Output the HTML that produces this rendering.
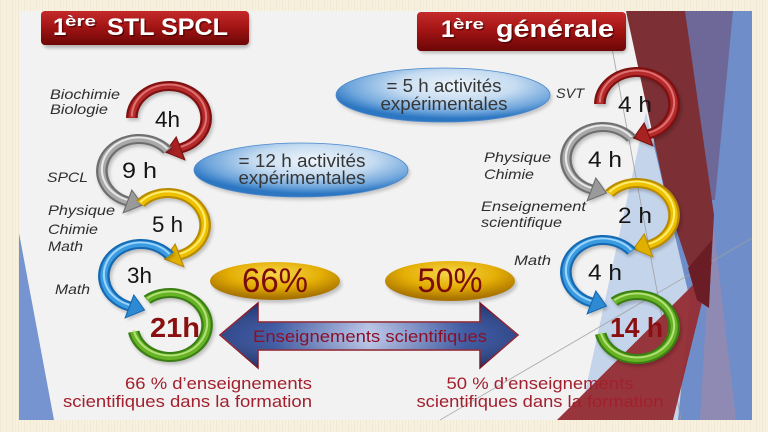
<!DOCTYPE html>
<html><head><meta charset="utf-8">
<style>html,body{margin:0;padding:0;background:#f7f0dd;overflow:hidden}svg{display:block}</style>
</head>
<body>
<svg width="768" height="432" viewBox="0 0 768 432" xmlns="http://www.w3.org/2000/svg" font-family="'Liberation Sans', Arial, sans-serif">
<defs>
  <pattern id="tex" width="6" height="6" patternUnits="userSpaceOnUse">
    <rect width="6" height="6" fill="#f8f1df"/>
    <rect x="0" width="1" height="6" fill="#f1e8d1"/>
    <rect x="3" width="1" height="6" fill="#f4ecd8"/>
  </pattern>
  <linearGradient id="title" x1="0" y1="0" x2="0" y2="1">
    <stop offset="0" stop-color="#c42a2a"/>
    <stop offset="0.45" stop-color="#a51515"/>
    <stop offset="1" stop-color="#6c0606"/>
  </linearGradient>
  <radialGradient id="blueEl" cx="0.56" cy="0.32" r="0.62">
    <stop offset="0" stop-color="#eef5fb"/>
    <stop offset="0.45" stop-color="#c6dcf1"/>
    <stop offset="0.8" stop-color="#6fa6dc"/>
    <stop offset="1" stop-color="#2c76c2"/>
  </radialGradient>
  <radialGradient id="goldEl" cx="0.5" cy="0.3" r="0.65">
    <stop offset="0" stop-color="#f7d64c"/>
    <stop offset="0.55" stop-color="#e4ae05"/>
    <stop offset="1" stop-color="#a87200"/>
  </radialGradient>
  <linearGradient id="arrowG" x1="0" y1="0" x2="1" y2="0">
    <stop offset="0" stop-color="#1b347d"/>
    <stop offset="0.18" stop-color="#2d4c9f"/>
    <stop offset="0.5" stop-color="#b9c6ec"/>
    <stop offset="0.82" stop-color="#2d4c9f"/>
    <stop offset="1" stop-color="#1b347d"/>
  </linearGradient>
  <linearGradient id="arrowV" x1="0" y1="0" x2="0" y2="1">
    <stop offset="0" stop-color="#000" stop-opacity="0.25"/>
    <stop offset="0.5" stop-color="#fff" stop-opacity="0.1"/>
    <stop offset="1" stop-color="#000" stop-opacity="0.3"/>
  </linearGradient>
  <filter id="blur" x="-20%" y="-20%" width="140%" height="140%"><feGaussianBlur stdDeviation="1.5"/></filter>
</defs>

<!-- outer background -->
<rect width="768" height="432" fill="url(#tex)"/>
<!-- slide -->
<rect x="19" y="11" width="733" height="409" fill="#f2f2f2"/>

<!-- left blue triangle -->
<polygon points="19,233 19,420 54,420" fill="#7694cf"/>

<!-- right decorations -->
<polygon points="660,11 752,11 752,420 640,420" fill="#6f8dc8"/>
<polygon points="685,11 733,11 715,200 707,200" fill="#6d6897"/>
<polygon points="711,205 736,420 700,420 707,300" fill="#9a8aac" opacity="0.75"/>
<polygon points="646,112 690,300 678,420 579,420" fill="#c4d4ea"/>
<line x1="612" y1="48" x2="681" y2="420" stroke="#9a9a9a" stroke-width="0.9" opacity="0.8"/>
<line x1="440" y1="420" x2="752" y2="238" stroke="#a0a0a0" stroke-width="0.9" opacity="0.8"/>
<polygon points="626,11 685,11 714,215 709,305 688,265 668,205" fill="#7c3036"/>
<polygon points="557,420 703,275 712,262 673,420" fill="#962f36" opacity="0.97"/>
<polygon points="688,268 712,240 709,308 697,300" fill="#6a1d24"/>

<!-- titles -->
<rect x="43" y="14" width="207" height="34" rx="5" fill="#000" opacity="0.25" filter="url(#blur)"/>
<rect x="41" y="11" width="208" height="34" rx="4" fill="url(#title)"/>
<g fill="#fff" font-weight="bold">
  <g fill="#3a0000" opacity="0.6" transform="translate(1.5 1.5)">
    <text x="53" y="35" font-size="24">1</text>
    <text x="65" y="26" font-size="15" textLength="31" lengthAdjust="spacingAndGlyphs">ère</text>
    <text x="107" y="35" font-size="24" textLength="121" lengthAdjust="spacingAndGlyphs">STL SPCL</text>
  </g>
  <text x="53" y="35" font-size="24">1</text>
  <text x="65" y="26" font-size="15" textLength="31" lengthAdjust="spacingAndGlyphs">ère</text>
  <text x="107" y="35" font-size="24" textLength="121" lengthAdjust="spacingAndGlyphs">STL SPCL</text>
</g>

<rect x="419" y="15" width="208" height="38" rx="5" fill="#000" opacity="0.25" filter="url(#blur)"/>
<rect x="417" y="12" width="209" height="39" rx="4" fill="url(#title)"/>
<g fill="#fff" font-weight="bold">
  <g fill="#3a0000" opacity="0.6" transform="translate(1.5 1.5)">
    <text x="441" y="37" font-size="24">1</text>
    <text x="453" y="29" font-size="15" textLength="31" lengthAdjust="spacingAndGlyphs">ère</text>
    <text x="496" y="37" font-size="24" textLength="118" lengthAdjust="spacingAndGlyphs">générale</text>
  </g>
  <text x="441" y="37" font-size="24">1</text>
  <text x="453" y="29" font-size="15" textLength="31" lengthAdjust="spacingAndGlyphs">ère</text>
  <text x="496" y="37" font-size="24" textLength="118" lengthAdjust="spacingAndGlyphs">générale</text>
</g>

<!-- blue ellipses -->
<ellipse cx="303" cy="173" rx="107" ry="27" fill="#000" opacity="0.18" filter="url(#blur)"/>
<ellipse cx="301" cy="170" rx="107" ry="27" fill="url(#blueEl)" stroke="#4a88cc" stroke-width="0.8"/>
<ellipse cx="445" cy="98" rx="107" ry="27" fill="#000" opacity="0.18" filter="url(#blur)"/>
<ellipse cx="443" cy="95" rx="107" ry="27" fill="url(#blueEl)" stroke="#4a88cc" stroke-width="0.8"/>
<g fill="#363636" font-size="18">
  <text x="302" y="167" text-anchor="middle" textLength="127" lengthAdjust="spacingAndGlyphs">= 12 h activités</text>
  <text x="302" y="184" text-anchor="middle" textLength="127" lengthAdjust="spacingAndGlyphs">expérimentales</text>
  <text x="444" y="92" text-anchor="middle" textLength="115" lengthAdjust="spacingAndGlyphs">= 5 h activités</text>
  <text x="444" y="110" text-anchor="middle" textLength="127" lengthAdjust="spacingAndGlyphs">expérimentales</text>
</g>

<!-- gold ellipses -->
<ellipse cx="277" cy="284" rx="65" ry="19" fill="#000" opacity="0.2" filter="url(#blur)"/>
<ellipse cx="275" cy="281" rx="65" ry="19" fill="url(#goldEl)"/>
<ellipse cx="452" cy="284" rx="65" ry="20" fill="#000" opacity="0.2" filter="url(#blur)"/>
<ellipse cx="450" cy="281" rx="65" ry="20" fill="url(#goldEl)"/>
<g fill="#7a0c0c" font-size="34">
  <text x="275" y="292" text-anchor="middle" textLength="66" lengthAdjust="spacingAndGlyphs">66%</text>
  <text x="450" y="292" text-anchor="middle" textLength="65" lengthAdjust="spacingAndGlyphs">50%</text>
</g>

<!-- double arrow -->
<polygon points="220,335 258,303 258,322 480,322 480,303 518,335 480,368 480,350 258,350 258,368" fill="url(#arrowG)" stroke="#8c1a2a" stroke-width="1.5"/>
<polygon points="220,335 258,303 258,322 480,322 480,303 518,335 480,368 480,350 258,350 258,368" fill="url(#arrowV)"/>
<text x="370" y="342" text-anchor="middle" font-size="17" fill="#8b1025" textLength="234" lengthAdjust="spacingAndGlyphs">Enseignements scientifiques</text>

<!-- bottom texts -->
<g fill="#a2202e" font-size="17">
  <text x="312" y="389" text-anchor="end" textLength="187" lengthAdjust="spacingAndGlyphs">66 % d’enseignements</text>
  <text x="312" y="407" text-anchor="end" textLength="249" lengthAdjust="spacingAndGlyphs">scientifiques dans la formation</text>
  <text x="540" y="389" text-anchor="middle" textLength="187" lengthAdjust="spacingAndGlyphs">50 % d’enseignements</text>
  <text x="540" y="407" text-anchor="middle" textLength="247" lengthAdjust="spacingAndGlyphs">scientifiques dans la formation</text>
</g>

<!-- labels -->
<g fill="#2e2e2e" font-size="14" font-style="italic">
  <text x="50" y="99" textLength="70" lengthAdjust="spacingAndGlyphs">Biochimie</text>
  <text x="50" y="114" textLength="58" lengthAdjust="spacingAndGlyphs">Biologie</text>
  <text x="47" y="182" textLength="41" lengthAdjust="spacingAndGlyphs">SPCL</text>
  <text x="48" y="215" textLength="67" lengthAdjust="spacingAndGlyphs">Physique</text>
  <text x="48" y="234" textLength="50" lengthAdjust="spacingAndGlyphs">Chimie</text>
  <text x="48" y="251" textLength="35" lengthAdjust="spacingAndGlyphs">Math</text>
  <text x="55" y="294" textLength="35" lengthAdjust="spacingAndGlyphs">Math</text>
  <text x="556" y="98" textLength="28" lengthAdjust="spacingAndGlyphs">SVT</text>
  <text x="484" y="162" textLength="67" lengthAdjust="spacingAndGlyphs">Physique</text>
  <text x="484" y="179" textLength="50" lengthAdjust="spacingAndGlyphs">Chimie</text>
  <text x="481" y="211" textLength="105" lengthAdjust="spacingAndGlyphs">Enseignement</text>
  <text x="481" y="227" textLength="81" lengthAdjust="spacingAndGlyphs">scientifique</text>
  <text x="514" y="265" textLength="37" lengthAdjust="spacingAndGlyphs">Math</text>
</g>

<!-- ===== LEFT COLUMN ARROWS ===== -->
<g transform="translate(169 118) scale(1.16 1)">
  <g transform="translate(1.5 2.5)" opacity="0.22" filter="url(#blur)"><path d="M-32 0A32 32 0 1 1 9.89 30.43" fill="none" stroke="#000" stroke-width="10"/><polygon points="13.6,41.8 6.18,19 -3,34" fill="#000"/></g>
  <path d="M-32 0A32 32 0 1 1 9.89 30.43" fill="none" stroke="#7d1010" stroke-width="10"/>
  <path d="M-32 0A32 32 0 1 1 9.89 30.43" fill="none" stroke="#b52a2a" stroke-width="6"/>
  <path d="M-32 0A32 32 0 1 1 9.89 30.43" fill="none" stroke="#e98383" stroke-width="1.8" transform="translate(0 -1.5)" opacity="0.8"/>
  <polygon points="13.6,41.8 6.18,19 -3,34" fill="#a82222" stroke="#7d1010" stroke-width="1"/>
</g>
<g transform="translate(139 171) scale(1.16 1)">
  <g transform="translate(1.5 2.5)" opacity="0.22" filter="url(#blur)"><path d="M24.51 -20.57A32 32 0 1 0 -9.89 30.43" fill="none" stroke="#000" stroke-width="10"/><polygon points="-13.6,41.8 -6.18,19 3,34" fill="#000"/></g>
  <path d="M24.51 -20.57A32 32 0 1 0 -9.89 30.43" fill="none" stroke="#6e6e6e" stroke-width="10"/>
  <path d="M24.51 -20.57A32 32 0 1 0 -9.89 30.43" fill="none" stroke="#a9a9a9" stroke-width="6"/>
  <path d="M24.51 -20.57A32 32 0 1 0 -9.89 30.43" fill="none" stroke="#efefef" stroke-width="1.8" transform="translate(0 -1.5)" opacity="0.9"/>
  <polygon points="-13.6,41.8 -6.18,19 3,34" fill="#9a9a9a" stroke="#6e6e6e" stroke-width="1"/>
</g>
<g transform="translate(168 225) scale(1.16 1)">
  <g transform="translate(1.5 2.5)" opacity="0.22" filter="url(#blur)"><path d="M-23.78 -21.41A32 32 0 1 1 9.89 30.43" fill="none" stroke="#000" stroke-width="10"/><polygon points="13.6,41.8 6.18,19 -3,34" fill="#000"/></g>
  <path d="M-23.78 -21.41A32 32 0 1 1 9.89 30.43" fill="none" stroke="#b88a00" stroke-width="10"/>
  <path d="M-23.78 -21.41A32 32 0 1 1 9.89 30.43" fill="none" stroke="#eec000" stroke-width="6"/>
  <path d="M-23.78 -21.41A32 32 0 1 1 9.89 30.43" fill="none" stroke="#fff37e" stroke-width="1.8" transform="translate(0 -1.5)" opacity="0.9"/>
  <polygon points="13.6,41.8 6.18,19 -3,34" fill="#e0b000" stroke="#b88a00" stroke-width="1"/>
</g>
<g transform="translate(141 276) scale(1.16 1)">
  <g transform="translate(1.5 2.5)" opacity="0.22" filter="url(#blur)"><path d="M24.51 -20.57A32 32 0 1 0 -9.89 30.43" fill="none" stroke="#000" stroke-width="10"/><polygon points="-13.6,41.8 -6.18,19 3,34" fill="#000"/></g>
  <path d="M24.51 -20.57A32 32 0 1 0 -9.89 30.43" fill="none" stroke="#1569b3" stroke-width="10"/>
  <path d="M24.51 -20.57A32 32 0 1 0 -9.89 30.43" fill="none" stroke="#3b9be0" stroke-width="6"/>
  <path d="M24.51 -20.57A32 32 0 1 0 -9.89 30.43" fill="none" stroke="#a8dcff" stroke-width="1.8" transform="translate(0 -1.5)" opacity="0.9"/>
  <polygon points="-13.6,41.8 -6.18,19 3,34" fill="#2f8ad4" stroke="#1569b3" stroke-width="1"/>
</g>
<g transform="translate(170 325) scale(1.16 1)">
  <g transform="translate(1.5 2.5)" opacity="0.22" filter="url(#blur)"><path d="M-19.70 -25.22A32 32 0 1 1 -31.30 6.65" fill="none" stroke="#000" stroke-width="10"/></g>
  <path d="M-19.70 -25.22A32 32 0 1 1 -31.30 6.65" fill="none" stroke="#3a7f14" stroke-width="10"/>
  <path d="M-19.70 -25.22A32 32 0 1 1 -31.30 6.65" fill="none" stroke="#67b225" stroke-width="6"/>
  <path d="M-19.70 -25.22A32 32 0 1 1 -31.30 6.65" fill="none" stroke="#bce682" stroke-width="1.8" transform="translate(0 -1.5)" opacity="0.9"/>
</g>

<!-- ===== RIGHT COLUMN ARROWS ===== -->
<g transform="translate(637 104) scale(1.16 1)">
  <g transform="translate(1.5 2.5)" opacity="0.22" filter="url(#blur)"><path d="M-32 0A32 32 0 1 1 9.89 30.43" fill="none" stroke="#000" stroke-width="10"/><polygon points="13.6,41.8 6.18,19 -3,34" fill="#000"/></g>
  <path d="M-32 0A32 32 0 1 1 9.89 30.43" fill="none" stroke="#7d1010" stroke-width="10"/>
  <path d="M-32 0A32 32 0 1 1 9.89 30.43" fill="none" stroke="#b52a2a" stroke-width="6"/>
  <path d="M-32 0A32 32 0 1 1 9.89 30.43" fill="none" stroke="#e98383" stroke-width="1.8" transform="translate(0 -1.5)" opacity="0.8"/>
  <polygon points="13.6,41.8 6.18,19 -3,34" fill="#a82222" stroke="#7d1010" stroke-width="1"/>
</g>
<g transform="translate(603 159) scale(1.16 1)">
  <g transform="translate(1.5 2.5)" opacity="0.22" filter="url(#blur)"><path d="M24.51 -20.57A32 32 0 1 0 -9.89 30.43" fill="none" stroke="#000" stroke-width="10"/><polygon points="-13.6,41.8 -6.18,19 3,34" fill="#000"/></g>
  <path d="M24.51 -20.57A32 32 0 1 0 -9.89 30.43" fill="none" stroke="#6e6e6e" stroke-width="10"/>
  <path d="M24.51 -20.57A32 32 0 1 0 -9.89 30.43" fill="none" stroke="#a9a9a9" stroke-width="6"/>
  <path d="M24.51 -20.57A32 32 0 1 0 -9.89 30.43" fill="none" stroke="#efefef" stroke-width="1.8" transform="translate(0 -1.5)" opacity="0.9"/>
  <polygon points="-13.6,41.8 -6.18,19 3,34" fill="#9a9a9a" stroke="#6e6e6e" stroke-width="1"/>
</g>
<g transform="translate(637 215) scale(1.16 1)">
  <g transform="translate(1.5 2.5)" opacity="0.22" filter="url(#blur)"><path d="M-23.78 -21.41A32 32 0 1 1 9.89 30.43" fill="none" stroke="#000" stroke-width="10"/><polygon points="13.6,41.8 6.18,19 -3,34" fill="#000"/></g>
  <path d="M-23.78 -21.41A32 32 0 1 1 9.89 30.43" fill="none" stroke="#b88a00" stroke-width="10"/>
  <path d="M-23.78 -21.41A32 32 0 1 1 9.89 30.43" fill="none" stroke="#eec000" stroke-width="6"/>
  <path d="M-23.78 -21.41A32 32 0 1 1 9.89 30.43" fill="none" stroke="#fff37e" stroke-width="1.8" transform="translate(0 -1.5)" opacity="0.9"/>
  <polygon points="13.6,41.8 6.18,19 -3,34" fill="#e0b000" stroke="#b88a00" stroke-width="1"/>
</g>
<g transform="translate(603 272) scale(1.16 1)">
  <g transform="translate(1.5 2.5)" opacity="0.22" filter="url(#blur)"><path d="M24.51 -20.57A32 32 0 1 0 -9.89 30.43" fill="none" stroke="#000" stroke-width="10"/><polygon points="-13.6,41.8 -6.18,19 3,34" fill="#000"/></g>
  <path d="M24.51 -20.57A32 32 0 1 0 -9.89 30.43" fill="none" stroke="#1569b3" stroke-width="10"/>
  <path d="M24.51 -20.57A32 32 0 1 0 -9.89 30.43" fill="none" stroke="#3b9be0" stroke-width="6"/>
  <path d="M24.51 -20.57A32 32 0 1 0 -9.89 30.43" fill="none" stroke="#a8dcff" stroke-width="1.8" transform="translate(0 -1.5)" opacity="0.9"/>
  <polygon points="-13.6,41.8 -6.18,19 3,34" fill="#2f8ad4" stroke="#1569b3" stroke-width="1"/>
</g>
<g transform="translate(637 327) scale(1.16 1)">
  <g transform="translate(1.5 2.5)" opacity="0.22" filter="url(#blur)"><path d="M-19.70 -25.22A32 32 0 1 1 -31.30 6.65" fill="none" stroke="#000" stroke-width="10"/></g>
  <path d="M-19.70 -25.22A32 32 0 1 1 -31.30 6.65" fill="none" stroke="#3a7f14" stroke-width="10"/>
  <path d="M-19.70 -25.22A32 32 0 1 1 -31.30 6.65" fill="none" stroke="#67b225" stroke-width="6"/>
  <path d="M-19.70 -25.22A32 32 0 1 1 -31.30 6.65" fill="none" stroke="#bce682" stroke-width="1.8" transform="translate(0 -1.5)" opacity="0.9"/>
</g>

<!-- numbers -->
<g fill="#141414" font-size="22">
  <text x="167.5" y="127" text-anchor="middle" textLength="25" lengthAdjust="spacingAndGlyphs">4h</text>
  <text x="139.5" y="178" text-anchor="middle" textLength="35" lengthAdjust="spacingAndGlyphs">9 h</text>
  <text x="167.5" y="232" text-anchor="middle" textLength="31" lengthAdjust="spacingAndGlyphs">5 h</text>
  <text x="139.5" y="283" text-anchor="middle" textLength="25" lengthAdjust="spacingAndGlyphs">3h</text>
  <text x="635" y="112" text-anchor="middle" textLength="34" lengthAdjust="spacingAndGlyphs">4 h</text>
  <text x="605" y="167" text-anchor="middle" textLength="34" lengthAdjust="spacingAndGlyphs">4 h</text>
  <text x="635" y="223" text-anchor="middle" textLength="34" lengthAdjust="spacingAndGlyphs">2 h</text>
  <text x="605" y="280" text-anchor="middle" textLength="34" lengthAdjust="spacingAndGlyphs">4 h</text>
</g>
<g fill="#8a0f10" font-size="28" font-weight="bold">
  <text x="175" y="337" text-anchor="middle" textLength="50" lengthAdjust="spacingAndGlyphs">21h</text>
  <text x="636.5" y="337" text-anchor="middle" textLength="53" lengthAdjust="spacingAndGlyphs">14 h</text>
</g>
</svg>
</body>
</html>
